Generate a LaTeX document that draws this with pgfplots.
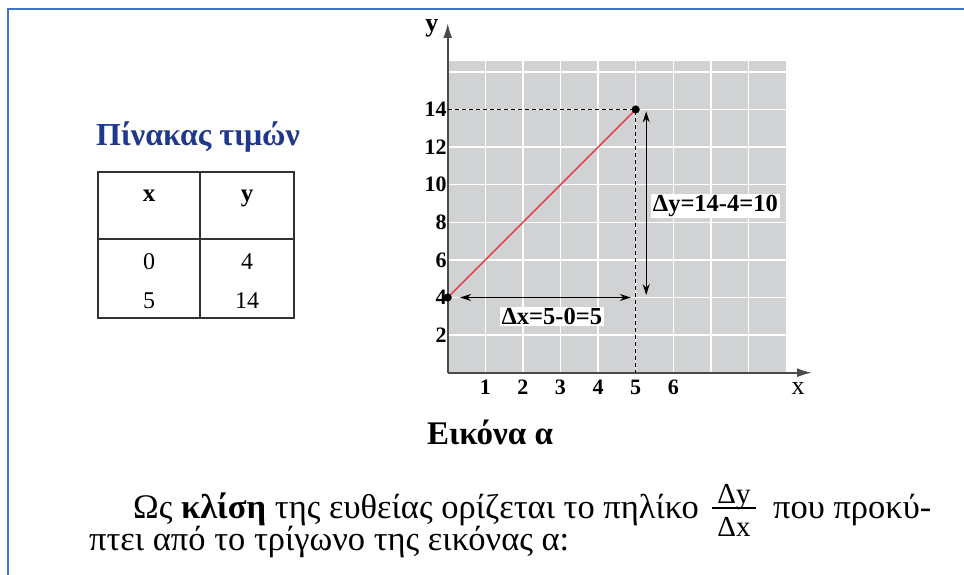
\documentclass[border=0pt]{standalone}
\usepackage{pgfplots}
\pgfplotsset{compat=1.18}
\usepackage{fontspec}
\setmainfont{Liberation Serif}
\usetikzlibrary{arrows.meta}
\definecolor{frameblue}{RGB}{68,114,196}
\definecolor{titleblue}{RGB}{32,56,140}
\definecolor{panelgray}{RGB}{209,210,212}
\definecolor{axisgray}{RGB}{75,75,75}
\definecolor{linered}{RGB}{232,67,75}
\definecolor{tablegray}{RGB}{50,50,50}

\begin{document}
\begin{tikzpicture}
\useasboundingbox (0,0) rectangle (964bp,575bp);
\begin{scope}[x=1bp,y=1bp]
  % page frame
  \draw[frameblue, line width=2bp] (8,0) -- (8,566) -- (964,566);
  % table of values
  \node[anchor=base, font=\fontsize{32bp}{36bp}\selectfont\bfseries, text=titleblue] at (198,429) {Πίνακας τιμών};
  \draw[tablegray, line width=2bp] (98,257) rectangle (294,403);
  \draw[tablegray, line width=2bp] (200,257) -- (200,403);
  \draw[tablegray, line width=2bp] (98,336) -- (294,336);
  \begin{scope}[every node/.style={anchor=base, font=\fontsize{24bp}{28bp}\selectfont}]
    \node[font=\fontsize{25bp}{28bp}\selectfont\bfseries] at (149,374) {x};
    \node[font=\fontsize{25bp}{28bp}\selectfont\bfseries] at (247,374) {y};
    \node at (149,306) {0};
    \node at (247,306) {4};
    \node at (149,267) {5};
    \node at (247,267) {14};
  \end{scope}
  % caption
  \node[anchor=base, font=\fontsize{33bp}{36bp}\selectfont\bfseries] at (490,131) {Εικόνα α};
  % paragraph
  \begin{scope}[every node/.style={inner sep=0pt, font=\fontsize{34.5bp}{38bp}\selectfont}]
    \node[anchor=base west] at (133,57) {Ως \textbf{κλίση} της ευθείας ορίζεται το πηλίκο};
    \node[anchor=base, font=\fontsize{29bp}{32bp}\selectfont] at (734,72) {Δy};
    \node[anchor=base, font=\fontsize{29bp}{32bp}\selectfont] at (734,39) {Δx};
    \draw[line width=1.2bp] (712,67) -- (756,67);
    \node[anchor=base west] at (773,57) {που προκύ-};
    \node[anchor=base west] at (89,25) {πτει από το τρίγωνο της εικόνας α:};
  \end{scope}
\end{scope}

\begin{axis}[
  at={(447.7bp,202.3bp)}, anchor=south west,
  scale only axis, width=364.3bp, height=349.7bp,
  xmin=0, xmax=9.69, ymin=0, ymax=18.6,
  axis lines=left,
  axis line style={draw=none},
  clip=false,
  xtick={1,2,3,4,5,6}, ytick={2,4,6,8,10,12,14},
  major tick length=0pt,
  /pgf/number format/assume math mode=true,
  ticklabel style={font=\fontsize{22bp}{26bp}\selectfont\bfseries},
  xticklabel style={inner ysep=7bp},
  yticklabel style={inner xsep=1bp},
]
  % grey panel with white grid
  \fill[panelgray] (axis cs:0,0) rectangle (axis cs:9,16.6);
  \pgfplotsinvokeforeach{1,...,8}{
    \draw[white, line width=1.4bp] (axis cs:#1,0) -- (axis cs:#1,16.6);
  }
  \pgfplotsinvokeforeach{2,4,...,16}{
    \draw[white, line width=1.4bp] (axis cs:0,#1) -- (axis cs:9,#1);
  }
  % coordinate axes
  \draw[axisgray, line width=2bp, -{Latex[length=15bp,width=9bp]}] (axis cs:0,0) -- (axis cs:9.69,0);
  \draw[axisgray, line width=2bp, -{Latex[length=15bp,width=9bp]}] (axis cs:0,0) -- (axis cs:0,18.6);
  % projections of the end point
  \addplot[black, line width=1.3bp, dash pattern=on 4bp off 3bp] coordinates {(0,14) (5,14) (5,0)};
  % the line through the two points
  \addplot[linered, line width=1.6bp] coordinates {(0,4) (5,14)};
  \addplot[only marks, mark=*, mark size=3.8bp, black] coordinates {(0,4) (5,14)};
  % differences
  \draw[black, line width=1.3bp, {Stealth[length=11bp,width=7bp]}-{Stealth[length=11bp,width=7bp]}]
    (axis cs:0.33,4) -- (axis cs:4.87,4);
  \draw[black, line width=1.3bp, {Stealth[length=11bp,width=7bp]}-{Stealth[length=11bp,width=7bp]}]
    (axis cs:5.28,4.13) -- (axis cs:5.28,13.9);
  \node[fill=white, inner xsep=2bp, inner ysep=1bp, font=\fontsize{24.5bp}{28bp}\selectfont\bfseries]
    at (axis cs:2.77,3.0) {Δx=5-0=5};
  \node[fill=white, inner xsep=2bp, inner ysep=1bp, font=\fontsize{24.5bp}{28bp}\selectfont\bfseries]
    at (axis cs:7.12,8.86) {Δy=14-4=10};
  % axis names
  \node[font=\fontsize{26bp}{30bp}\selectfont] at (axis cs:9.32,-0.85) {x};
  \node[font=\fontsize{26bp}{30bp}\selectfont\bfseries] at (axis cs:-0.42,18.3) {y};
\end{axis}
\end{tikzpicture}
\end{document}
